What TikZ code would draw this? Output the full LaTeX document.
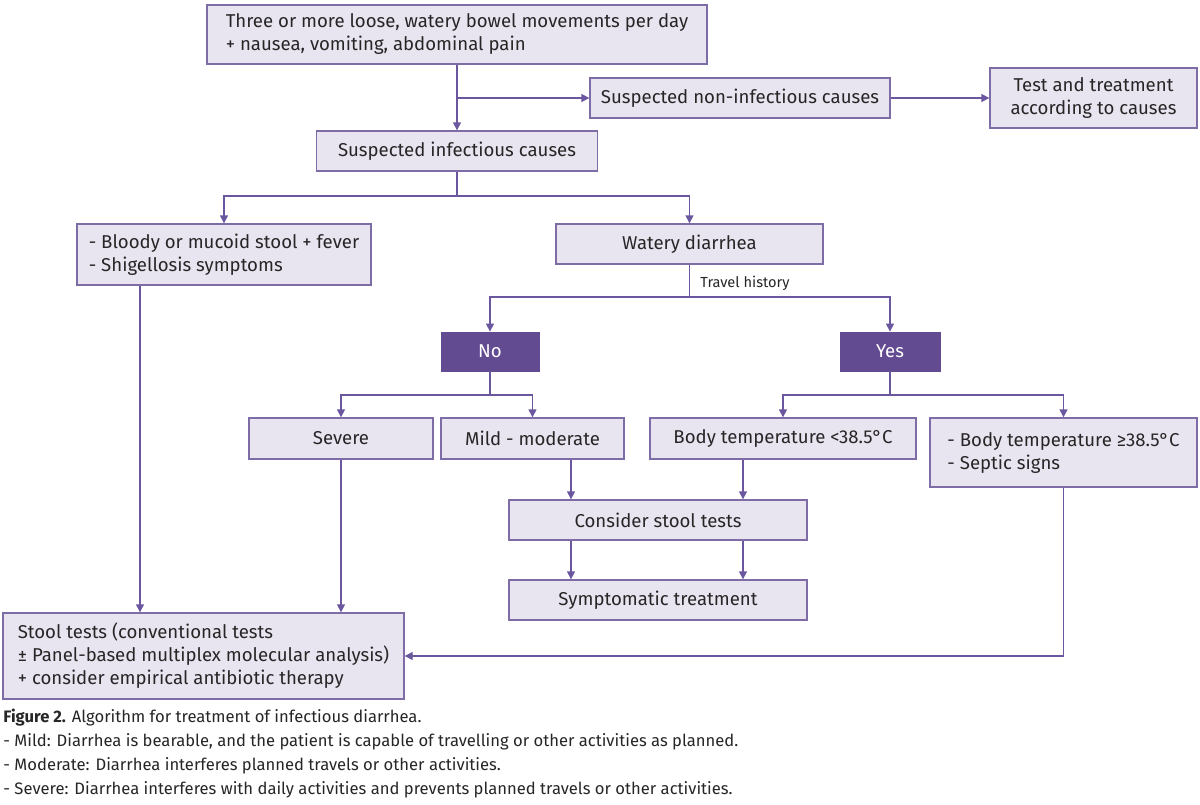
\documentclass[tikz,border=0pt]{standalone}
\usepackage{fontspec}
\setmainfont{Fira Sans}
\usetikzlibrary{arrows.meta}
\definecolor{boxfill}{RGB}{233,229,240}
\definecolor{boxline}{RGB}{125,108,165}
\definecolor{conn}{RGB}{107,87,160}
\definecolor{darkbox}{RGB}{98,75,145}
\begin{document}
\begin{tikzpicture}[x=0.5pt,y=-0.5pt,
  box/.style={draw=boxline,fill=boxfill,line width=0.7pt,inner sep=0pt,align=left,font=\fontsize{9.3pt}{11.5pt}\selectfont,text=black!85},
  cbox/.style={box,align=center},
  dbox/.style={draw=darkbox,fill=darkbox,inner sep=0pt,text=white,font=\fontsize{9.3pt}{11.5pt}\selectfont},
  line/.style={draw=conn,line width=0.7pt},
  arr/.style={line,-{Triangle[length=4pt,width=4pt]}}]
\useasboundingbox (0,0) rectangle (1200,804);
\fill[white] (0,0) rectangle (1200,804);
\node[box,minimum width=250pt,minimum height=29.5pt] (A) at (457,34.5) {Three or more loose, watery bowel movements per day\\+ nausea, vomiting, abdominal pain};
\node[cbox,minimum width=150pt,minimum height=20pt] (C) at (740,98) {Suspected non-infectious causes};
\node[cbox,minimum width=103.5pt,minimum height=30pt] (D) at (1093.5,98) {Test and treatment\\according to causes};
\node[cbox,minimum width=140.5pt,minimum height=20pt] (B) at (457,151) {Suspected infectious causes};
\node[box,minimum width=147pt,minimum height=30.5pt] (E) at (224,254.5) {- Bloody or mucoid stool + fever\\- Shigellosis symptoms};
\node[cbox,minimum width=133.5pt,minimum height=20pt] (F) at (689.5,244) {Watery diarrhea};
\node[dbox,minimum width=49pt,minimum height=19.5pt] (No) at (490,351.5) {No};
\node[dbox,minimum width=50pt,minimum height=19.5pt] (Yes) at (890,351.5) {Yes};
\node[cbox,minimum width=92pt,minimum height=20.5pt] (Sev) at (341,438.5) {Severe};
\node[cbox,minimum width=91.5pt,minimum height=20.5pt] (Mild) at (532.5,438.5) {Mild - moderate};
\node[cbox,minimum width=133pt,minimum height=20.5pt] (Lt) at (783,438.5) {Body temperature <38.5°C};
\node[box,minimum width=133.5pt,minimum height=34.5pt] (Ge) at (1063.5,452.5) {- Body temperature ≥38.5°C\\- Septic signs};
\node[cbox,minimum width=149pt,minimum height=20pt] (Cons) at (658,520) {Consider stool tests};
\node[cbox,minimum width=149pt,minimum height=20pt] (Sym) at (658,600) {Symptomatic treatment};
\node[box,minimum width=200.5pt,minimum height=43pt] (St) at (203.5,656) {Stool tests (conventional tests\\± Panel-based multiplex molecular analysis)\\+ consider empirical antibiotic therapy};
\node[anchor=west,inner sep=0pt,font=\fontsize{7.3pt}{8pt}\selectfont,text=black!85] (TH) at (700,283) {Travel history};
\node[anchor=north west,inner sep=0pt,align=left,font=\fontsize{8.3pt}{12pt}\selectfont,text=black!85] (Cap) at (3,709) {\textbf{Figure 2.} Algorithm for treatment of infectious diarrhea.\\- Mild: Diarrhea is bearable, and the patient is capable of travelling or other activities as planned.\\- Moderate: Diarrhea interferes planned travels or other activities.\\- Severe: Diarrhea interferes with daily activities and prevents planned travels or other activities.};
% helper coordinates
\coordinate (j1) at (457,98);
\coordinate (j2) at (457,196);
\coordinate (j3) at (689.5,297);
\coordinate (j4) at (490,395);
\coordinate (j5) at (890,395);
\coordinate (xa) at (571,0);
\coordinate (xb) at (743,0);
\coordinate (xc) at (140,0);
% connectors
\draw[arr] (A.south) -- (B.north);
\draw[arr] (j1) -- (C.west);
\draw[arr] (C.east) -- (D.west);
\draw[line] (B.south) -- (j2);
\draw[arr] (j2) -| (E.north);
\draw[arr] (j2) -| (F.north);
\draw[line] (F.south) -- (j3);
\draw[arr] (j3) -| (No.north);
\draw[arr] (j3) -| (Yes.north);
\draw[line] (No.south) -- (j4);
\draw[arr] (j4) -| (Sev.north);
\draw[arr] (j4) -| (Mild.north);
\draw[line] (Yes.south) -- (j5);
\draw[arr] (j5) -| (Lt.north);
\draw[arr] (j5) -| (Ge.north);
\draw[arr] (Mild.south -| xa) -- (Cons.north -| xa);
\draw[arr] (Lt.south -| xb) -- (Cons.north -| xb);
\draw[arr] (Cons.south -| xa) -- (Sym.north -| xa);
\draw[arr] (Cons.south -| xb) -- (Sym.north -| xb);
\draw[arr] (E.south -| xc) -- (St.north -| xc);
\draw[arr] (Sev.south) -- (St.north -| Sev.south);
\draw[arr] (Ge.south) |- (St.east);
\end{tikzpicture}
\end{document}
